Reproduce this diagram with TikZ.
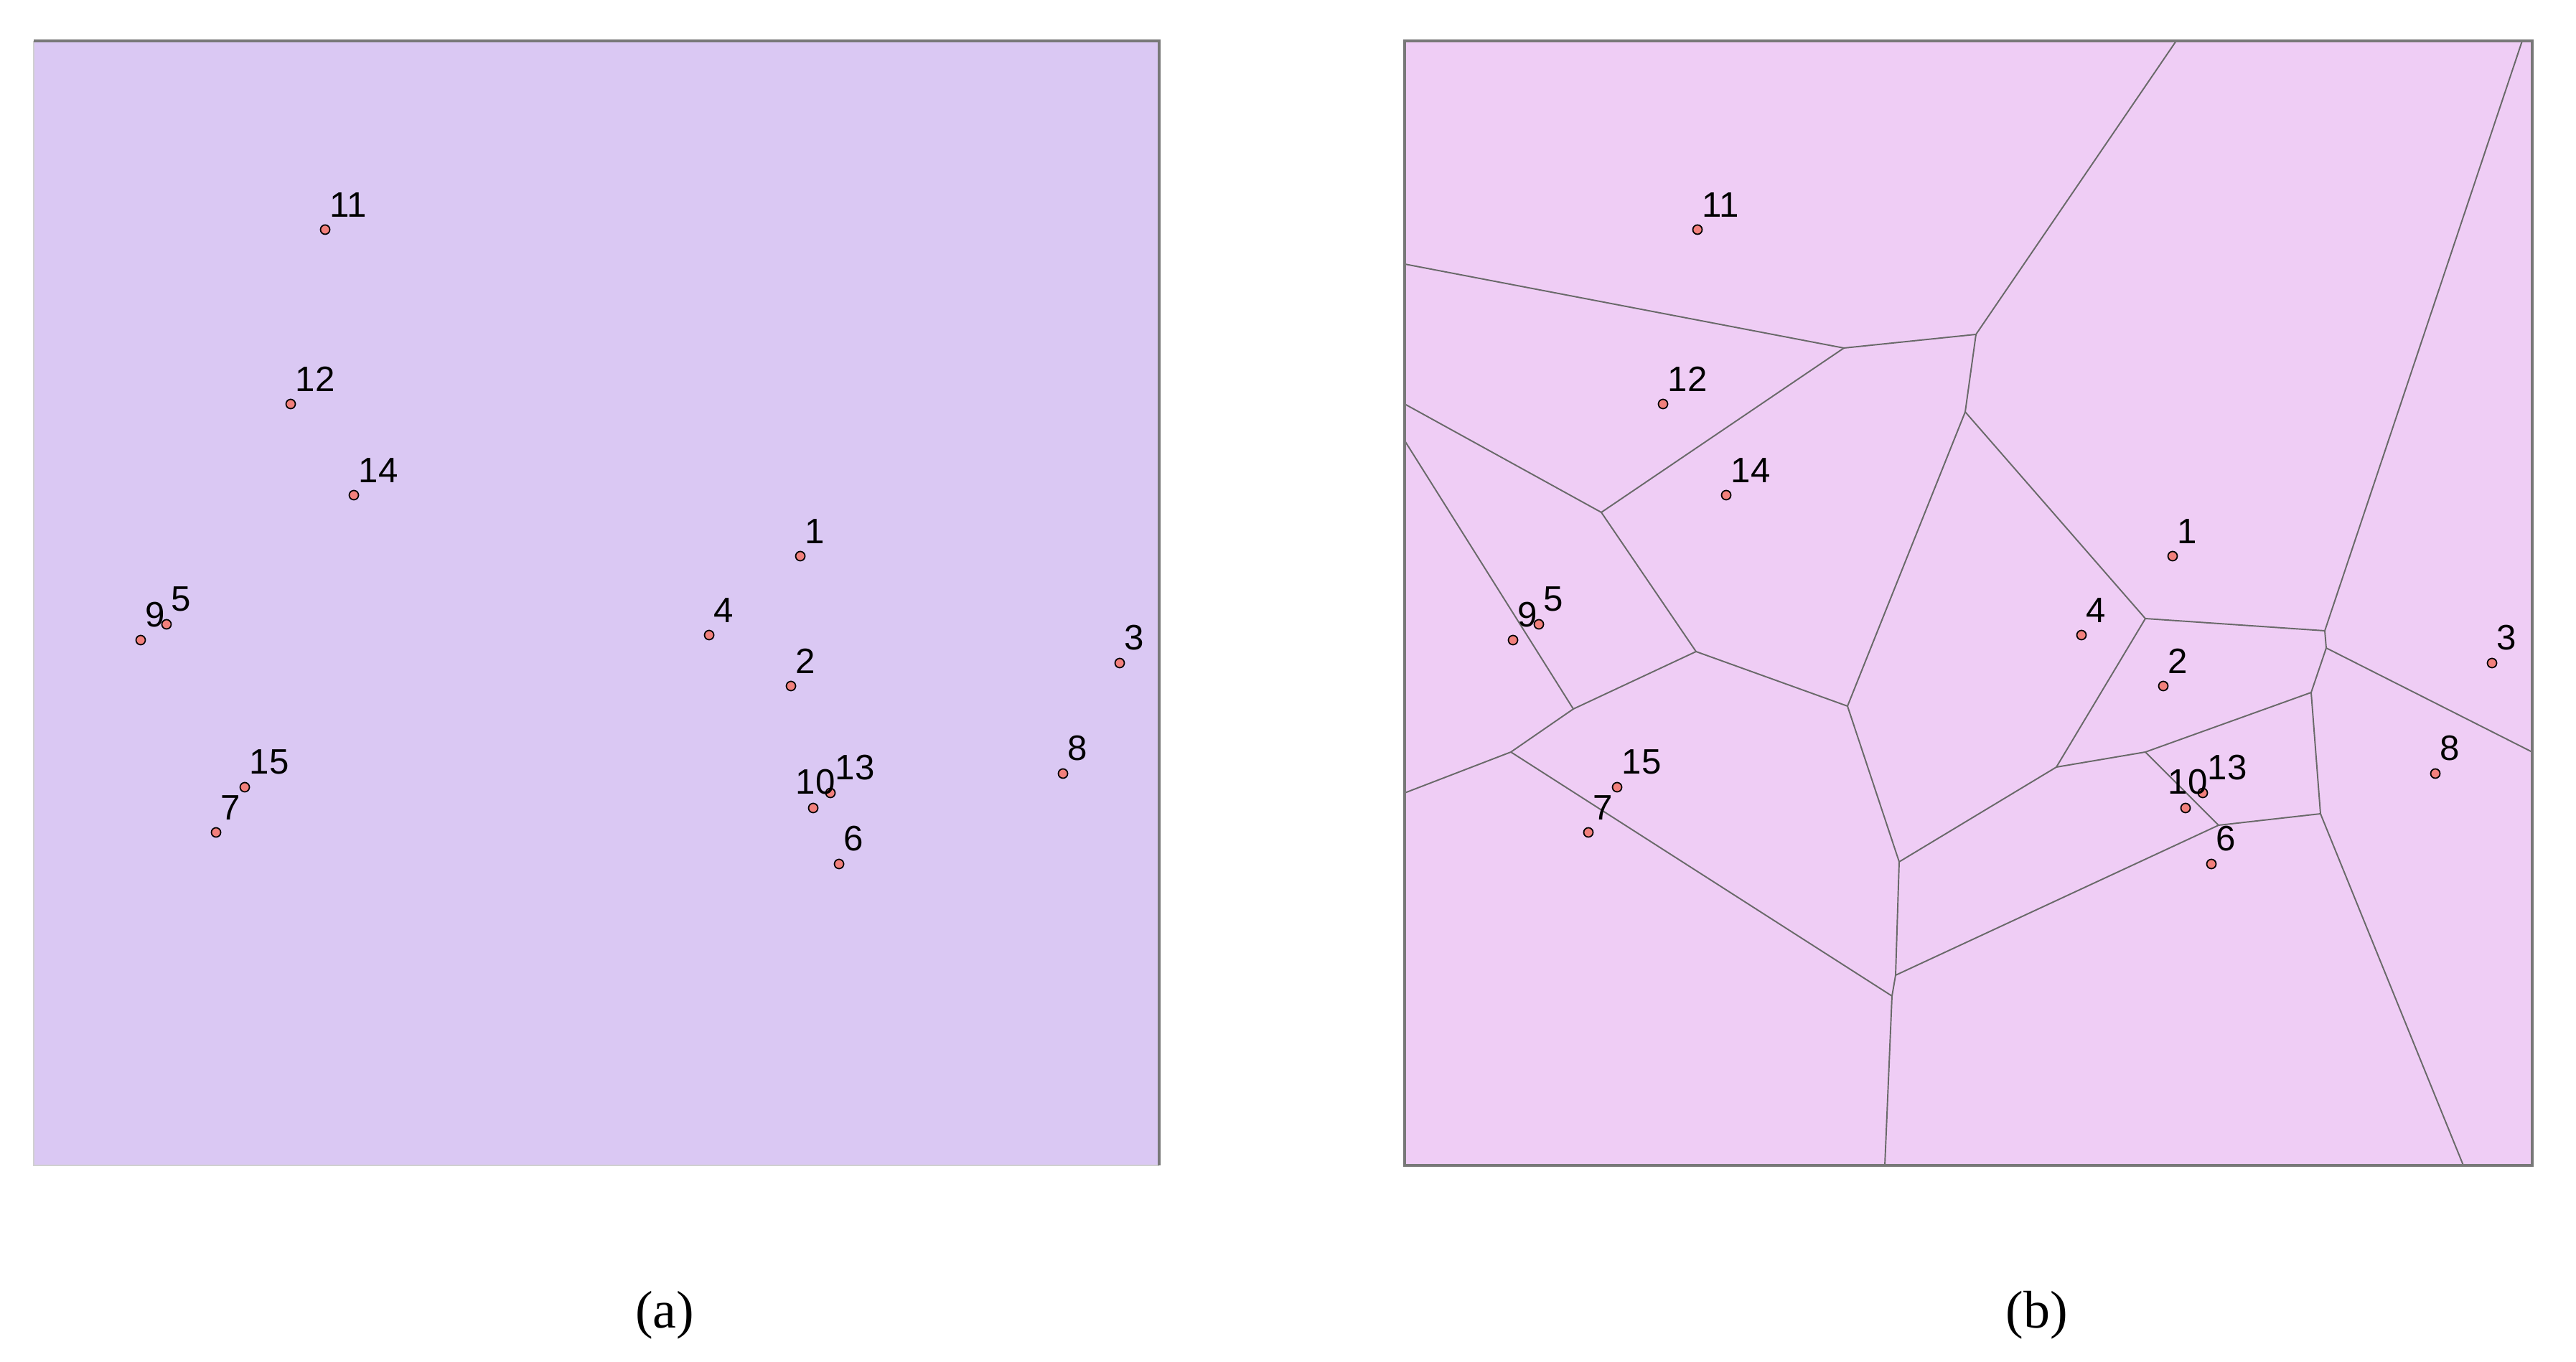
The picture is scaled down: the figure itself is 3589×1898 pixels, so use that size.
\documentclass[tikz,border=0pt]{standalone}
\usepackage{fontspec}
\setmainfont{Liberation Serif}
\newfontfamily\labfont{Liberation Sans}
\usetikzlibrary{calc}
\definecolor{panelA}{RGB}{218,200,243}
\definecolor{panelB}{RGB}{239,205,245}
\definecolor{framegray}{RGB}{120,120,120}
\definecolor{edgegray}{RGB}{105,105,105}
\definecolor{sitefill}{RGB}{242,128,124}
\tikzset{
  site/.style={circle,draw=black,line width=0.5pt,fill=sitefill,inner sep=0pt,minimum size=0.13cm},
  lab/.style={font=\labfont\fontsize{14}{14}\selectfont,inner sep=0pt,anchor=south west},
  vedge/.style={draw=edgegray,line width=0.55pt},
  captext/.style={font=\fontsize{21}{24}\selectfont,inner sep=0pt}
}
\begin{document}
\begin{tikzpicture}[x=0.01cm,y=-0.01cm]
\useasboundingbox (0,0) rectangle (3589,1898);
% panel a
\fill[panelA] (47,57) rectangle (1615,1624);
\draw[framegray!35,line width=0.6pt] (47,57) -- (47,1624) -- (1615,1624);
\draw[framegray,line width=0.9pt] (47,57) -- (1615,57) -- (1615,1624);
% panel b
\fill[panelB] (1957,57) rectangle (3528,1624);
% voronoi vertices
\coordinate (T1) at (3032,57);
\coordinate (T2) at (3514,57);
\coordinate (A) at (2753,466);
\coordinate (L1) at (1957,368);
\coordinate (B) at (2569,485);
\coordinate (C) at (2738,574);
\coordinate (D) at (2231,714);
\coordinate (L2) at (1957,563);
\coordinate (L3) at (1957,614);
\coordinate (E) at (2363,908);
\coordinate (F) at (2989,862);
\coordinate (H) at (3239,879);
\coordinate (I) at (3241,903);
\coordinate (R1) at (3528,1048);
\coordinate (J) at (3220,965);
\coordinate (K) at (2989,1048);
\coordinate (L) at (2865,1069);
\coordinate (M) at (3091,1150);
\coordinate (N) at (3233,1134);
\coordinate (B1) at (3432,1624);
\coordinate (O) at (2641,1359);
\coordinate (P) at (2646,1201);
\coordinate (Q) at (2636,1388);
\coordinate (B2) at (2626,1624);
\coordinate (G) at (2574,984);
\coordinate (R) at (2192,988);
\coordinate (S) at (2105,1048);
\coordinate (L4) at (1957,1105);
\draw[vedge] (T1) -- (A) -- (B) -- (L1);
\draw[vedge] (A) -- (C) -- (F) -- (H) -- (T2);
\draw[vedge] (B) -- (D) -- (L2);
\draw[vedge] (D) -- (E) -- (G) -- (C);
\draw[vedge] (H) -- (I) -- (R1);
\draw[vedge] (I) -- (J) -- (K) -- (L) -- (F);
\draw[vedge] (K) -- (M) -- (N) -- (J);
\draw[vedge] (N) -- (B1);
\draw[vedge] (L) -- (P) -- (O) -- (Q) -- (B2);
\draw[vedge] (M) -- (O);
\draw[vedge] (G) -- (P);
\draw[vedge] (E) -- (R) -- (L3);
\draw[vedge] (R) -- (S) -- (L4);
\draw[vedge] (S) -- (Q);
\draw[framegray,line width=0.9pt] (1957,57) rectangle (3528,1624);
% sites
\foreach \n/\x/\y in {1/3027/775,2/3014/956,3/3472/924,4/2900/885,5/2144/870,6/3081/1204,7/2213/1160,8/3393/1078,9/2108/892,11/2365/320,12/2317/563,13/3069/1105,14/2405/690,15/2253/1097}{
  \node[site] (a\n) at (\x-1912,\y) {};
  \node[lab] (la\n) at ($(a\n)+(6,-17)$) {\n};
  \node[site] (b\n) at (\x,\y) {};
  \node[lab] (lb\n) at ($(b\n)+(6,-17)$) {\n};
}
\node[site] (a10) at (3045-1912,1126) {};
\node[lab] (la10) at ($(a10)+(-25,-18)$) {10};
\node[site] (b10) at (3045,1126) {};
\node[lab] (lb10) at ($(b10)+(-25,-18)$) {10};
% captions
\node[captext] (capa) at (926,1833) {(a)};
\node[captext] (capb) at (2838,1833) {(b)};
\end{tikzpicture}
\end{document}
